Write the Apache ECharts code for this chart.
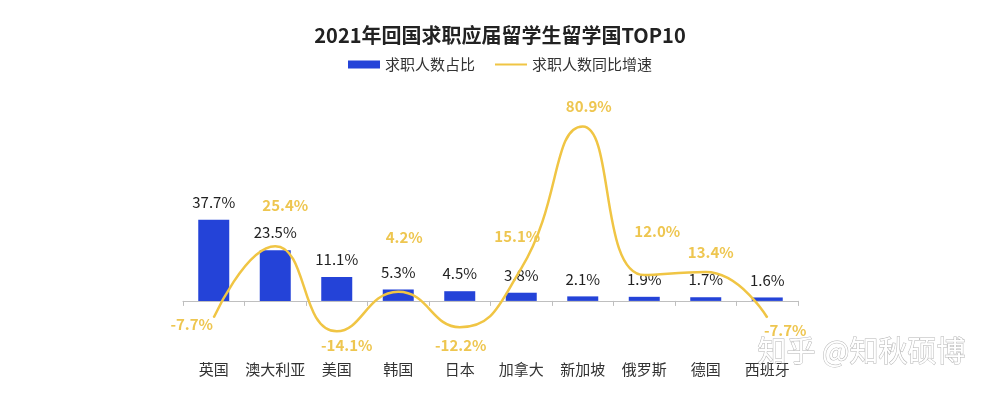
<!DOCTYPE html>
<html>
<head>
<meta charset="utf-8">
<script src="https://cdn.jsdelivr.net/npm/echarts@6/dist/echarts.min.js"></script>
<style>
  html, body { margin: 0; padding: 0; background: #fff; }
  #main { width: 1000px; height: 398px; }
</style>
</head>
<body>
<div id="main"></div>
<script>
// 数据
var categories = ["英国", "澳大利亚", "美国", "韩国", "日本", "加拿大", "新加坡", "俄罗斯", "德国", "西班牙"];
var shareValues = [37.7, 23.5, 11.1, 5.3, 4.5, 3.8, 2.1, 1.9, 1.7, 1.6];
var growthValues = [-7.7, 25.4, -14.1, 4.2, -12.2, 15.1, 80.9, 12.0, 13.4, -7.7];

// 折线标签偏移(相对数据点)
var growthLabelOffsets = [[-22, 7], [10, -41], [10, 14], [6, -55], [1, 18], [-4, -32], [6, -20], [13, -44], [5, -20], [18, 13]];

var font = "'Noto Sans CJK SC', 'Noto Sans', sans-serif";

var myChart = echarts.init(document.getElementById("main"));

myChart.setOption({
  animation: false,
  title: {
    text: "2021年回国求职应届留学生留学国TOP10",
    left: "center",
    top: 20,
    textStyle: {
      fontSize: 20,
      fontWeight: "bold",
      color: "#222",
      fontFamily: font
    }
  },
  legend: {
    top: 52,
    left: "center",
    itemGap: 20,
    itemWidth: 32,
    itemHeight: 8,
    textStyle: {
      fontSize: 15,
      color: "#333",
      fontFamily: font
    },
    data: [
      { name: "求职人数占比", icon: "rect" },
      { name: "求职人数同比增速", icon: "path://M0,0 L30,0 L30,2 L0,2 Z" }
    ]
  },
  grid: {
    left: 183,
    right: 202,
    top: 107,
    bottom: 54,
    containLabel: false,
    outerBoundsMode: "none"
  },
  xAxis: {
    type: "category",
    data: categories,
    axisLine: { onZero: true, lineStyle: { color: "#bfbfbf" } },
    axisTick: { show: true, length: 5, lineStyle: { color: "#bfbfbf" } },
    axisLabel: {
      interval: 0,
      margin: 18,
      fontSize: 15,
      color: "#333",
      fontFamily: font
    }
  },
  yAxis: {
    type: "value",
    min: -20,
    max: 90,
    interval: 10,
    show: false,
    splitLine: { show: false }
  },
  series: [
    {
      name: "求职人数占比",
      type: "bar",
      barWidth: 31,
      data: shareValues,
      itemStyle: { color: "#2443d8" },
      label: {
        show: true,
        position: "top",
        distance: 10,
        fontSize: 15,
        color: "#222",
        fontFamily: font,
        formatter: function (p) { return p.value.toFixed(1) + "%"; }
      }
    },
    {
      name: "求职人数同比增速",
      type: "line",
      smooth: true,
      symbol: "circle",
      symbolSize: 1,
      z: 5,
      lineStyle: { color: "#f0c544", width: 2.5 },
      itemStyle: { color: "#f0c544" },
      data: growthValues.map(function (v, i) {
        return {
          value: v,
          label: { offset: growthLabelOffsets[i] }
        };
      }),
      label: {
        show: true,
        position: "inside",
        fontSize: 15,
        fontWeight: "bold",
        color: "#eec650",
        fontFamily: font,
        formatter: function (p) { return p.value.toFixed(1) + "%"; }
      }
    }
  ],
  graphic: [
    {
      type: "text",
      left: 757,
      top: 336,
      z: 100,
      style: {
        text: "知乎 @知秋硕博",
        fontSize: 29,
        fontFamily: font,
        fill: "#ffffff",
        stroke: "#b5b5b5",
        lineWidth: 1
      }
    }
  ]
});
</script>
</body>
</html>
